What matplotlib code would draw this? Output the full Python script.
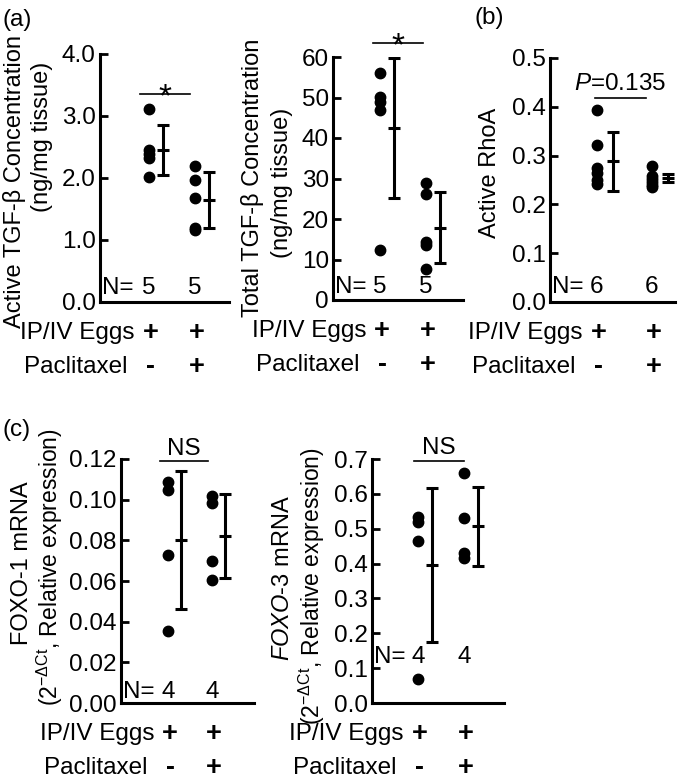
"""
Dot plots with mean +/- SD: TGF-beta, RhoA and FOXO mRNA, control vs paclitaxel.
"""

import matplotlib
matplotlib.use('Agg')
import matplotlib.pyplot as plt

plt.rcParams['font.family'] = ['Liberation Sans', 'DejaVu Sans']
plt.rcParams['mathtext.fontset'] = 'custom'
plt.rcParams['mathtext.rm'] = 'Liberation Sans'
plt.rcParams['mathtext.it'] = 'Liberation Sans:italic'
plt.rcParams['mathtext.bf'] = 'Liberation Sans:bold'

W, H = 680, 783
FS = 17.5
LFS = 17  # y label size
PX = 0.72  # points per pixel at dpi 100
ERR_OFF = 0.3

groups = [1, 2]
eggs_row = ['+', '+']
pacli_row = ['-', '+']

# (a) Active TGF-beta (ng/mg tissue)
active_tgf = [[3.11, 2.45, 2.38, 2.32, 2.02], [2.20, 1.97, 1.68, 1.19, 1.16]]
active_tgf_mean = [2.45, 1.64]
active_tgf_sd = [0.40, 0.45]
active_tgf_n = [5, 5]

# (a) Total TGF-beta (ng/mg tissue)
total_tgf = [[56.1, 50.2, 49.0, 46.9, 12.3], [29.0, 26.1, 14.4, 13.6, 7.6]]
total_tgf_mean = [42.5, 17.9]
total_tgf_sd = [17.35, 8.8]
total_tgf_n = [5, 5]

# (b) Active RhoA
rhoa = [[0.394, 0.321, 0.274, 0.264, 0.250, 0.241],
        [0.279, 0.258, 0.252, 0.246, 0.240, 0.236]]
rhoa_mean = [0.288, 0.254]
rhoa_sd = [0.060, 0.0085]
rhoa_n = [6, 6]

# (c) FOXO-1 mRNA
foxo1 = [[0.1086, 0.1048, 0.0726, 0.0355], [0.1017, 0.0983, 0.0698, 0.0607]]
foxo1_mean = [0.0802, 0.0821]
foxo1_sd = [0.034, 0.0208]
foxo1_n = [4, 4]

# (c) FOXO-3 mRNA
foxo3 = [[0.533, 0.520, 0.465, 0.068], [0.659, 0.530, 0.429, 0.415]]
foxo3_mean = [0.396, 0.507]
foxo3_sd = [0.2215, 0.1135]
foxo3_n = [4, 4]


def rect(x0, x1, ytop, ybot):
    return [x0 / W, 1 - ybot / H, (x1 - x0) / W, (ybot - ytop) / H]


def draw_panel(fig, box, xlim, values, means, sds, ns, yticks, fmt,
               n_off, sig):
    ax = fig.add_axes(rect(*box))
    for x, vals, m, s in zip(groups, values, means, sds):
        ax.plot([x] * len(vals), vals, 'o', color='black', ms=7.5,
                clip_on=False, zorder=3)
        ax.errorbar(x + ERR_OFF, m, yerr=s, fmt='_', color='black', ms=9,
                    mew=2.2, elinewidth=2.2, capsize=4.5, capthick=2.2)

    ax.set_xlim(*xlim)
    ax.set_ylim(yticks[0], yticks[-1])
    ax.set_yticks(yticks)
    ax.set_yticklabels([fmt.format(t) for t in yticks])
    ax.set_xticks([])
    for side in ['top', 'right']:
        ax.spines[side].set_visible(False)
    for side in ['left', 'bottom']:
        ax.spines[side].set_linewidth(2.2)
    ax.tick_params(axis='y', direction='in', length=6, width=2,
                   labelsize=FS, pad=3)

    # N row
    ax.annotate('N=', xy=(0, 0), xycoords='axes fraction',
                xytext=(2 * PX, n_off * PX), textcoords='offset points',
                ha='left', va='center', fontsize=FS)
    for x, n in zip(groups, ns):
        ax.annotate(str(n), xy=(x, 0), xycoords=('data', 'axes fraction'),
                    xytext=(0, n_off * PX), textcoords='offset points',
                    ha='center', va='center', fontsize=FS)

    # treatment rows
    ax.annotate('IP/IV Eggs', xy=(groups[0], 0),
                xycoords=('data', 'axes fraction'),
                xytext=(-14 * PX, -31 * PX), textcoords='offset points',
                ha='right', va='center', fontsize=FS)
    ax.annotate('Paclitaxel', xy=(groups[0], 0),
                xycoords=('data', 'axes fraction'),
                xytext=(-21 * PX, -65 * PX), textcoords='offset points',
                ha='right', va='center', fontsize=FS)
    for x, e, p in zip(groups, eggs_row, pacli_row):
        ax.annotate(e, xy=(x, 0), xycoords=('data', 'axes fraction'),
                    xytext=(2 * PX, -31 * PX), textcoords='offset points',
                    ha='center', va='center', fontsize=FS + 2,
                    fontweight='bold')
        ax.annotate(p, xy=(x, 0), xycoords=('data', 'axes fraction'),
                    xytext=(2 * PX, -65 * PX), textcoords='offset points',
                    ha='center', va='center', fontsize=FS + 2,
                    fontweight='bold')

    # significance bar
    x0, x1, y, label, lab_off, lab_fs = sig
    ax.plot([x0, x1], [y, y], color='black', lw=1.2, clip_on=False)
    ax.annotate(label, xy=((x0 + x1) / 2, y), xycoords='data',
                xytext=(0, lab_off * PX), textcoords='offset points',
                ha='center', va='baseline', fontsize=lab_fs,
                annotation_clip=False)
    return ax


fig = plt.figure(figsize=(W / 100, H / 100), dpi=100)

draw_panel(fig, (100, 229, 54, 302), (-0.065, 2.74),
           active_tgf, active_tgf_mean, active_tgf_sd, active_tgf_n,
           [0, 1, 2, 3, 4], '{:.1f}', 14,
           (0.805, 1.89, 3.35, '*', -12, 24))

draw_panel(fig, (333, 463, 57, 300), (-0.02, 2.80),
           total_tgf, total_tgf_mean, total_tgf_sd, total_tgf_n,
           [0, 10, 20, 30, 40, 50, 60], '{:d}', 13,
           (0.85, 1.94, 63.5, '*', -12, 24))

draw_panel(fig, (550, 675, 58, 302), (0.145, 2.42),
           rhoa, rhoa_mean, rhoa_sd, rhoa_n,
           [0.0, 0.1, 0.2, 0.3, 0.4, 0.5], '{:.1f}', 15,
           (0.96, 1.89, 0.418, r'$\mathit{P}$=0.135', 8, FS))

draw_panel(fig, (121, 254, 459, 703), (-0.068, 2.95),
           foxo1, foxo1_mean, foxo1_sd, foxo1_n,
           [0.00, 0.02, 0.04, 0.06, 0.08, 0.10, 0.12], '{:.2f}', 11,
           (0.82, 1.91, 0.119, 'NS', 6, FS))

draw_panel(fig, (372, 504, 459, 703), (0.0, 2.87),
           foxo3, foxo3_mean, foxo3_sd, foxo3_n,
           [0.0, 0.1, 0.2, 0.3, 0.4, 0.5, 0.6, 0.7], '{:.1f}', 46,
           (0.91, 2.0, 0.694, 'NS', 7, FS))

# y-axis labels
def ylab(x, y, s, fs=LFS):
    fig.text(x / W, 1 - y / H, s, rotation=90, ha='center', va='center',
             fontsize=fs)

rel_expr = r'(2$^{\mathregular{-\Delta Ct}}$, Relative expression)'
ylab(15, 182, 'Active TGF-β Concentration')
ylab(42, 137, '(ng/mg tissue)')
ylab(253, 178, 'Total TGF-β Concentration')
ylab(282, 183, '(ng/mg tissue)')
ylab(490, 173, 'Active RhoA')
ylab(22, 563, 'FOXO-1 mRNA')
ylab(50, 567, rel_expr, LFS - 0.5)
ylab(283, 578, r'$\mathit{FOXO}$-3 mRNA')
ylab(312, 586, rel_expr, LFS - 0.5)

# panel letters
fig.text(3 / W, 1 - 20 / H, '(a)', ha='left', va='center', fontsize=FS)
fig.text(475 / W, 1 - 18 / H, '(b)', ha='left', va='center', fontsize=FS)
fig.text(3 / W, 1 - 430 / H, '(c)', ha='left', va='center', fontsize=FS)

fig.savefig('out.png', dpi=100)
plt.close('all')
